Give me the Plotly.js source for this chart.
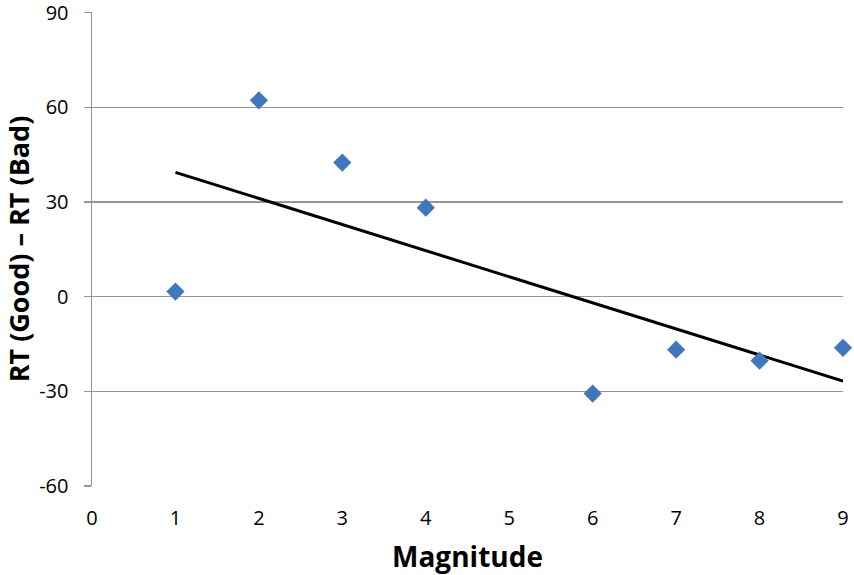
<!DOCTYPE html>
<html>
<head>
<meta charset="utf-8">
<script src="https://cdn.plot.ly/plotly-3.0.1.min.js"></script>
<style>html,body{margin:0;padding:0;background:#fff;}#chart{width:854px;height:575px;}</style>
</head>
<body>
<div id="chart"></div>
<script>
const magnitude = [1, 2, 3, 4, 6, 7, 8, 9];
const rtDiff = [1.6, 62.2, 42.5, 28.2, -30.7, -16.8, -20.3, -16.2];
const xTicks = [0, 1, 2, 3, 4, 5, 6, 7, 8, 9];
const yTicks = [-60, -30, 0, 30, 60, 90];

// linear least-squares trendline (as Excel's linear trendline)
const n = magnitude.length;
const mx = magnitude.reduce((a, b) => a + b, 0) / n;
const my = rtDiff.reduce((a, b) => a + b, 0) / n;
let sxy = 0, sxx = 0;
for (let i = 0; i < n; i++) { sxy += (magnitude[i] - mx) * (rtDiff[i] - my); sxx += (magnitude[i] - mx) ** 2; }
const slope = sxy / sxx, intercept = my - slope * mx;
const trendX = [magnitude[0], magnitude[n - 1]];
const trendY = trendX.map(x => intercept + slope * x);

const font = "Open Sans, Liberation Sans, sans-serif";
const data = [
  { x: trendX, y: trendY, mode: 'lines', type: 'scatter', line: { color: '#000000', width: 3 }, hoverinfo: 'skip', cliponaxis: false },
  { x: magnitude, y: rtDiff, mode: 'markers', type: 'scatter', marker: { symbol: 'diamond', size: 14, color: '#3E77BD' }, cliponaxis: false }
];
const layout = {
  width: 854, height: 575,
  margin: { l: 92, r: 11, t: 12, b: 89 },
  showlegend: false,
  paper_bgcolor: '#ffffff', plot_bgcolor: '#ffffff',
  xaxis: {
    range: [0, 9], tickvals: xTicks, ticktext: xTicks.map(String),
    showgrid: false, zeroline: false, showline: false, ticks: '',
    ticklabelstandoff: 18, ticklabeloverflow: 'allow',
    tickfont: { family: font, size: 20, color: '#000' },
    title: { text: '<b>Magnitude</b>', font: { family: font, size: 28, color: '#000' }, standoff: 19 }
  },
  yaxis: {
    range: [-60, 90.2], tickvals: yTicks, ticktext: yTicks.map(String),
    showgrid: true, gridcolor: '#969696', gridwidth: 1.5, zeroline: false,
    showline: true, linecolor: '#969696', linewidth: 1.5,
    ticks: 'outside', ticklen: 7, tickcolor: '#969696', tickwidth: 1.5,
    ticklabelstandoff: 11, ticklabeloverflow: 'allow',
    tickfont: { family: font, size: 20, color: '#000' },
    title: { text: '<b>RT (Good) – RT (Bad)</b>', font: { family: font, size: 27, color: '#000' }, standoff: 13 }
  }
};
Plotly.newPlot('chart', data, layout, { displayModeBar: false, staticPlot: true });
</script>
</body>
</html>
